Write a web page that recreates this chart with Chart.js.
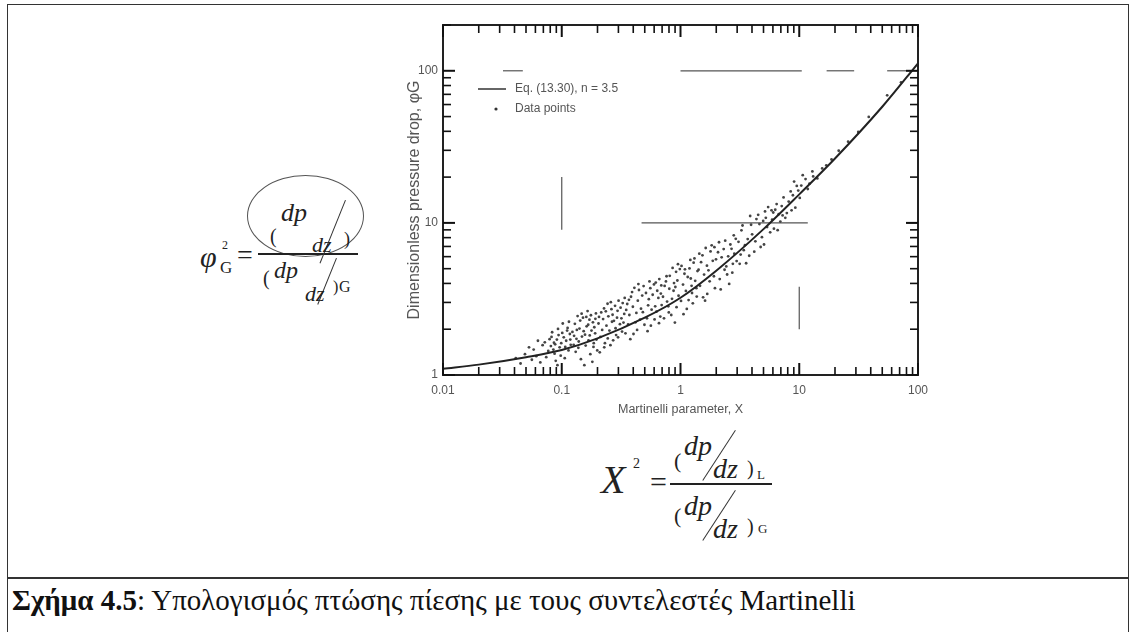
<!DOCTYPE html>
<html>
<head>
<meta charset="utf-8">
<script src="https://cdn.jsdelivr.net/npm/chart.js@4.4.1/dist/chart.umd.min.js"></script>
<style>
  body { margin: 0; background: #fff; }
  #page { position: relative; width: 1134px; height: 632px; overflow: hidden; font-family: "Liberation Serif", serif; color: #222; }
  .abs { position: absolute; white-space: nowrap; line-height: 1; }
  .it { font-style: italic; }
  .bar { position: absolute; height: 2px; background: #222; }
  .slash { position: absolute; width: 1px; background: #333; transform-origin: 0 0; }
  #chartBox { position: absolute; left: 403px; top: 0; width: 540px; height: 420px; z-index: 2; }
</style>
</head>
<body>
<div id="page">
  <!-- frame of the figure -->
  <div style="position:absolute;left:7px;top:4px;width:1120px;height:700px;border:1.5px solid #333;"></div>
  <div style="position:absolute;left:7px;top:577px;width:1122px;height:2px;background:#333;"></div>

  <div id="chartBox"><canvas id="martinelliChart"></canvas></div>

  <!-- phi_G^2 = (dp/dz) / (dp/dz)_G -->
  <div style="position:absolute;left:247px;top:175px;width:115px;height:80px;border:1px solid #555;border-radius:50%;"></div>
  <span class="abs it" style="left:200px;top:242px;font-size:30px;">φ</span>
  <span class="abs" style="left:220px;top:259px;font-size:17px;">G</span>
  <span class="abs" style="left:222px;top:239px;font-size:12px;">2</span>
  <span class="abs" style="left:237px;top:241px;font-size:28px;">=</span>
  <div class="bar" style="left:258px;top:253px;width:100px;"></div>
  <span class="abs" style="left:270px;top:226px;font-size:20px;">(</span>
  <span class="abs it" style="left:281px;top:200px;font-size:26px;">dp</span>
  <div class="slash" style="left:345px;top:200px;height:68px;transform:rotate(22deg);"></div>
  <span class="abs it" style="left:312px;top:234px;font-size:22px;">dz</span>
  <span class="abs" style="left:344px;top:230px;font-size:18px;">)</span>
  <span class="abs" style="left:263px;top:268px;font-size:20px;">(</span>
  <span class="abs it" style="left:274px;top:258px;font-size:24px;">dp</span>
  <div class="slash" style="left:336px;top:258px;height:50px;transform:rotate(22deg);"></div>
  <span class="abs it" style="left:305px;top:283px;font-size:22px;">dz</span>
  <span class="abs" style="left:333px;top:279px;font-size:16px;">)</span>
  <span class="abs" style="left:339px;top:279px;font-size:16px;">G</span>

  <!-- X^2 = (dp/dz)_L / (dp/dz)_G -->
  <span class="abs it" style="left:601px;top:460px;font-size:40px;">X</span>
  <span class="abs" style="left:633px;top:457px;font-size:14px;">2</span>
  <span class="abs" style="left:650px;top:467px;font-size:30px;">=</span>
  <div class="bar" style="left:670px;top:483px;width:102px;"></div>
  <span class="abs" style="left:674px;top:450px;font-size:22px;">(</span>
  <span class="abs it" style="left:684px;top:432px;font-size:28px;">dp</span>
  <div class="slash" style="left:735px;top:430px;height:60px;transform:rotate(33deg);"></div>
  <span class="abs it" style="left:713px;top:455px;font-size:28px;">dz</span>
  <span class="abs" style="left:747px;top:458px;font-size:20px;">)</span>
  <span class="abs" style="left:757px;top:468px;font-size:13px;">L</span>
  <span class="abs" style="left:674px;top:505px;font-size:22px;">(</span>
  <span class="abs it" style="left:684px;top:492px;font-size:28px;">dp</span>
  <div class="slash" style="left:735px;top:490px;height:60px;transform:rotate(33deg);"></div>
  <span class="abs it" style="left:713px;top:515px;font-size:28px;">dz</span>
  <span class="abs" style="left:747px;top:516px;font-size:20px;">)</span>
  <span class="abs" style="left:758px;top:522px;font-size:13px;">G</span>

  <!-- caption -->
  <div class="abs" style="left:12px;top:586px;font-size:29px;color:#111;">
    <b>Σχήμα 4.5</b>: Υπολογισμός πτώσης πίεσης με τους συντελεστές Martinelli
  </div>
</div>

<script>
// Lockhart-Martinelli chart, values

const curveX = [0.01, 0.02, 0.05, 0.1, 0.2, 0.5, 1, 2, 5, 10, 20, 50, 100];
const curveY = [1.10, 1.17, 1.31, 1.46, 1.74, 2.38, 3.22, 4.85, 9.1, 15.4, 26.5, 58, 112];

// measured data points (X, phi_G)
const dataPoints = [
  [0.041,1.29],[0.058,1.47],[0.049,1.37],[0.066,1.21],[0.053,1.52],[0.072,1.64],[0.061,1.33],[0.077,1.44],
  [0.045,1.19],[0.069,1.57],[0.074,1.31],[0.056,1.26],[0.079,1.72],[0.063,1.68],
  [0.081,1.55],[0.094,1.83],[0.087,1.38],[0.112,2.04],[0.099,1.62],[0.083,1.91],[0.106,1.29],[0.091,1.71],
  [0.117,1.86],[0.085,1.47],[0.102,2.18],[0.096,1.52],[0.109,1.68],[0.089,1.24],[0.114,1.45],[0.093,2.01],
  [0.119,1.58],[0.104,1.77],[0.086,1.63],[0.111,1.96],[0.098,1.34],[0.115,2.24],[0.082,1.78],[0.107,1.53],
  [0.092,1.16],[0.118,1.71],[0.101,1.89],[0.088,1.59],
  [0.123,1.92],[0.171,2.31],[0.138,1.51],[0.186,1.62],[0.129,2.17],[0.157,1.84],[0.194,2.54],[0.145,1.27],
  [0.162,2.09],[0.133,1.73],[0.178,1.96],[0.151,2.38],[0.199,1.45],[0.126,1.58],[0.168,1.69],[0.141,2.02],
  [0.183,2.22],[0.155,1.16],[0.191,1.88],[0.136,2.44],[0.174,1.37],[0.148,1.79],[0.165,2.63],[0.131,1.42],
  [0.188,2.06],[0.159,1.56],[0.143,2.28],[0.196,1.71],[0.127,1.81],[0.176,2.47],[0.153,1.94],[0.181,1.22],
  [0.139,1.66],[0.167,2.14],[0.192,2.34],[0.147,2.53],[0.172,1.82],[0.134,1.98],[0.185,1.53],[0.161,2.41],
  [0.204,2.18],[0.262,2.71],[0.231,1.62],[0.318,2.36],[0.215,2.58],[0.287,1.83],[0.243,2.94],[0.336,2.52],
  [0.209,1.41],[0.275,2.27],[0.252,1.96],[0.301,3.08],[0.223,2.33],[0.344,1.88],[0.268,2.49],[0.238,2.11],
  [0.295,2.64],[0.212,1.78],[0.326,2.97],[0.257,1.57],[0.281,2.85],[0.227,2.74],[0.309,2.16],[0.247,2.43],
  [0.339,3.21],[0.219,1.98],[0.271,1.69],[0.292,2.38],[0.235,2.62],[0.322,1.93],[0.259,3.01],[0.206,2.41],
  [0.313,2.77],[0.244,1.74],[0.284,2.03],[0.228,1.52],[0.331,2.21],[0.265,2.24],[0.298,1.77],[0.349,2.68],
  [0.356,2.93],[0.512,3.46],[0.418,2.22],[0.627,2.61],[0.383,3.27],[0.563,2.11],[0.447,3.62],[0.689,3.88],
  [0.371,2.48],[0.534,2.87],[0.402,1.86],[0.598,3.94],[0.465,2.73],[0.651,3.21],[0.391,3.51],[0.522,2.36],
  [0.437,3.08],[0.676,2.42],[0.362,2.15],[0.583,3.37],[0.489,3.84],[0.612,2.83],[0.425,2.56],[0.548,4.12],
  [0.378,1.72],[0.663,4.27],[0.456,2.31],[0.571,2.69],[0.409,3.74],[0.637,3.58],[0.497,2.14],[0.694,2.88],
  [0.368,3.12],[0.541,3.15],[0.431,1.98],[0.605,2.32],[0.476,3.33],[0.659,2.19],[0.397,2.81],[0.557,3.72],
  [0.482,2.59],[0.619,4.05],[0.442,3.96],[0.528,1.94],[0.683,3.43],
  [0.712,3.27],[1.08,4.63],[0.836,2.48],[1.29,5.48],[0.754,4.12],[1.17,3.11],[0.918,4.77],[1.36,3.72],
  [0.789,2.83],[1.02,5.21],[0.874,3.58],[1.22,4.31],[0.735,3.85],[1.13,2.72],[0.963,3.32],[1.31,5.84],
  [0.812,4.49],[1.05,3.93],[0.897,2.21],[1.25,3.46],[0.771,3.04],[1.19,5.02],[0.941,4.18],[1.39,4.82],
  [0.858,5.06],[1.11,3.57],[0.726,2.36],[1.27,2.96],[0.987,4.97],[1.15,4.41],[0.805,3.69],[1.33,4.16],
  [0.926,2.79],[1.06,2.51],[0.763,4.46],[1.21,5.71],[0.882,4.02],[1.01,3.07],[0.848,3.17],[1.37,3.28],
  [0.952,5.35],[1.09,4.95],[0.797,2.58],[1.24,3.86],[0.905,3.79],
  [1.42,4.92],[2.31,6.73],[1.68,3.41],[2.76,5.38],[1.53,6.12],[2.14,4.27],[1.87,5.63],[2.92,7.86],
  [1.46,3.86],[2.47,4.58],[1.79,6.49],[2.63,7.21],[1.58,4.57],[2.22,5.94],[1.95,3.72],[2.84,6.27],
  [1.49,5.52],[2.38,7.64],[1.72,4.88],[2.57,3.97],[1.63,6.84],[2.07,6.41],[1.91,4.46],[2.97,5.61],
  [1.55,3.24],[2.43,5.17],[1.83,7.12],[2.69,6.75],[1.67,5.23],[2.18,3.65],[1.99,5.76],[2.81,8.28],
  [1.44,6.28],[2.35,4.92],[1.76,4.13],[2.52,6.03],[1.61,3.08],[2.11,7.46],[1.93,6.92],[2.73,4.71],
  [3.08,7.51],[4.62,9.83],[3.57,5.43],[5.84,12.1],[3.26,8.94],[4.18,6.47],[5.23,10.8],[6.71,11.4],
  [3.41,6.62],[4.85,8.06],[3.93,9.72],[6.12,9.16],[3.15,5.38],[5.47,12.7],[4.36,10.6],[6.45,13.3],
  [3.68,7.83],[5.05,7.21],[4.01,8.41],[6.93,10.2],[3.33,9.61],[5.69,8.67],[4.51,11.3],[6.28,12.2],
  [3.79,6.08],[4.97,10.3],[3.49,7.14],[5.91,10.5],[4.27,7.56],[6.58,8.96],[3.86,11.1],[5.36,9.38],
  [4.73,6.94],[6.04,11.7],[3.21,6.19],[5.15,11.9],
  [7.12,12.9],[8.84,15.2],[7.63,10.8],[10.4,17.6],[7.38,14.7],[9.27,12.6],[8.15,13.8],[11.3,19.4],
  [7.86,11.6],[9.81,16.3],[8.47,16.1],[12.2,18.1],[7.24,11.2],[10.1,14.6],[8.62,12.1],[13.1,20.2],
  [9.53,17.5],[11.8,16.7],[10.7,20.6],[12.9,21.8],[14.2,19.6],[9.05,18.7],
  [15.6,22.8],[16.9,23.9],[18.7,26.1],[21.5,29.8],[25.8,34.2],[31.4,39.6],[38.5,49.7],[55,69],[72,84]
];

// pieces of the printed grid that survived in the scan
const gridPieces = [
  [[0.47, 10], [11.8, 10]],
  [[80, 10], [100, 10]],
  [[1, 100], [10.5, 100]],
  [[17, 100], [29, 100]],
  [[55, 100], [100, 100]],
  [[0.032, 100], [0.047, 100]],
  [[0.1, 9], [0.1, 20]],
  [[10, 2], [10, 3.8]]
];

const xTickValues = [0.01,0.02,0.03,0.04,0.05,0.06,0.07,0.08,0.09,
                     0.1,0.2,0.3,0.4,0.5,0.6,0.7,0.8,0.9,
                     1,2,3,4,5,6,7,8,9,10,20,30,40,50,60,70,80,90,100];
const yTickValues = [1,2,3,4,5,6,7,8,9,10,20,30,40,50,60,70,80,90,100,200];
const xTickLabels = {0.01: '0.01', 0.1: '0.1', 1: '1', 10: '10', 100: '100'};
const yTickLabels = {1: '1', 10: '10', 100: '100'};
const legendLabels = ['Eq. (13.30), n = 3.5', 'Data points'];

const isPow10 = v => Math.abs(Math.log10(v) - Math.round(Math.log10(v))) < 1e-9;
const setTicks = values => scale => {
  scale.ticks = values.map(v => ({ value: v, major: isPow10(v) }));
};

const noGrid = { display: true, drawOnChartArea: false, drawTicks: false };
const frame = { display: true, color: '#222', width: 2 };

// inward tick marks on all four sides, plus the legend inside the plot
const plotExtras = {
  id: 'plotExtras',
  afterDraw(chart) {
    const { ctx, chartArea: a } = chart;
    const sx = chart.scales.x, sy = chart.scales.y;
    ctx.save();
    ctx.strokeStyle = '#111';
    for (const v of xTickValues) {
      const px = sx.getPixelForValue(v);
      const len = isPow10(v) ? 12 : 8;
      ctx.lineWidth = isPow10(v) ? 2 : 1.6;
      ctx.beginPath();
      ctx.moveTo(px, a.bottom);
      ctx.lineTo(px, a.bottom - len);
      ctx.stroke();
      ctx.beginPath();
      ctx.moveTo(px, a.top);
      ctx.lineTo(px, a.top + len);
      ctx.stroke();
    }
    for (const v of yTickValues) {
      const py = sy.getPixelForValue(v);
      const len = isPow10(v) ? 12 : 8;
      ctx.lineWidth = isPow10(v) ? 2 : 1.6;
      ctx.beginPath();
      ctx.moveTo(a.left, py);
      ctx.lineTo(a.left + len, py);
      ctx.stroke();
      ctx.beginPath();
      ctx.moveTo(a.right, py);
      ctx.lineTo(a.right - len, py);
      ctx.stroke();
    }

    ctx.strokeStyle = '#333';
    ctx.lineWidth = 1.5;
    ctx.beginPath();
    ctx.moveTo(a.left + 35, a.top + 64);
    ctx.lineTo(a.left + 63, a.top + 64);
    ctx.stroke();
    ctx.fillStyle = '#333';
    ctx.beginPath();
    ctx.arc(a.left + 53, a.top + 84, 1.6, 0, Math.PI * 2);
    ctx.fill();
    ctx.font = '12px "Liberation Sans"';
    ctx.fillStyle = '#555';
    ctx.textBaseline = 'middle';
    ctx.fillText(legendLabels[0], a.left + 72, a.top + 64);
    ctx.fillText(legendLabels[1], a.left + 72, a.top + 84);
    ctx.restore();
  }
};

const datasets = [
  {
    type: 'line',
    label: legendLabels[0],
    data: curveX.map((x, i) => ({ x: x, y: curveY[i] })),
    borderColor: '#222',
    borderWidth: 2,
    pointRadius: 0,
    cubicInterpolationMode: 'monotone',
    order: 1
  },
  {
    type: 'scatter',
    label: legendLabels[1],
    data: dataPoints.map(p => ({ x: p[0], y: p[1] })),
    backgroundColor: '#444',
    borderWidth: 0,
    pointRadius: 1.4,
    order: 2
  }
];
gridPieces.forEach(seg => {
  datasets.push({
    type: 'line',
    data: seg.map(p => ({ x: p[0], y: p[1] })),
    borderColor: '#555',
    borderWidth: 1.2,
    pointRadius: 0,
    order: 3
  });
});

new Chart(document.getElementById('martinelliChart'), {
  type: 'scatter',
  data: { datasets: datasets },
  plugins: [plotExtras],
  options: {
    responsive: true,
    maintainAspectRatio: false,
    animation: false,
    layout: { padding: { top: 25, right: 25, left: 0, bottom: 0 } },
    plugins: { legend: { display: false }, tooltip: { enabled: false } },
    font: { family: '"Liberation Sans", sans-serif' },
    scales: {
      x: {
        type: 'logarithmic', position: 'bottom', min: 0.01, max: 100,
        afterBuildTicks: setTicks(xTickValues),
        afterFit: s => { s.height = 45; s.paddingLeft = 0; s.paddingRight = 0; },
        grid: noGrid, border: frame,
        ticks: { autoSkip: false, maxRotation: 0, padding: 8, color: '#555', font: { size: 12 },
                 callback: v => xTickLabels[v] || '' },
        title: { display: true, text: 'Martinelli parameter, X', color: '#555', font: { size: 12.5 },
                 padding: { top: 0, bottom: 3 } }
      },
      y: {
        type: 'logarithmic', position: 'left', min: 1, max: 200,
        afterBuildTicks: setTicks(yTickValues),
        afterFit: s => { s.width = 40; s.paddingTop = 0; s.paddingBottom = 0; },
        grid: noGrid, border: frame,
        ticks: { autoSkip: false, padding: 5, color: '#555', font: { size: 12 },
                 callback: v => yTickLabels[v] || '' },
        title: { display: true, text: 'Dimensionless pressure drop, φG', color: '#555', font: { size: 16 },
                 padding: { top: 2, bottom: 0 } }
      },
      x2: {
        type: 'logarithmic', position: 'top', min: 0.01, max: 100,
        afterBuildTicks: setTicks(xTickValues),
        afterFit: s => { s.height = 0; s.paddingLeft = 0; s.paddingRight = 0; },
        grid: noGrid, border: frame,
        ticks: { autoSkip: false, display: false }
      },
      y2: {
        type: 'logarithmic', position: 'right', min: 1, max: 200,
        afterBuildTicks: setTicks(yTickValues),
        afterFit: s => { s.width = 0; s.paddingTop = 0; s.paddingBottom = 0; },
        grid: noGrid, border: frame,
        ticks: { autoSkip: false, display: false }
      }
    }
  }
});
</script>
</body>
</html>
